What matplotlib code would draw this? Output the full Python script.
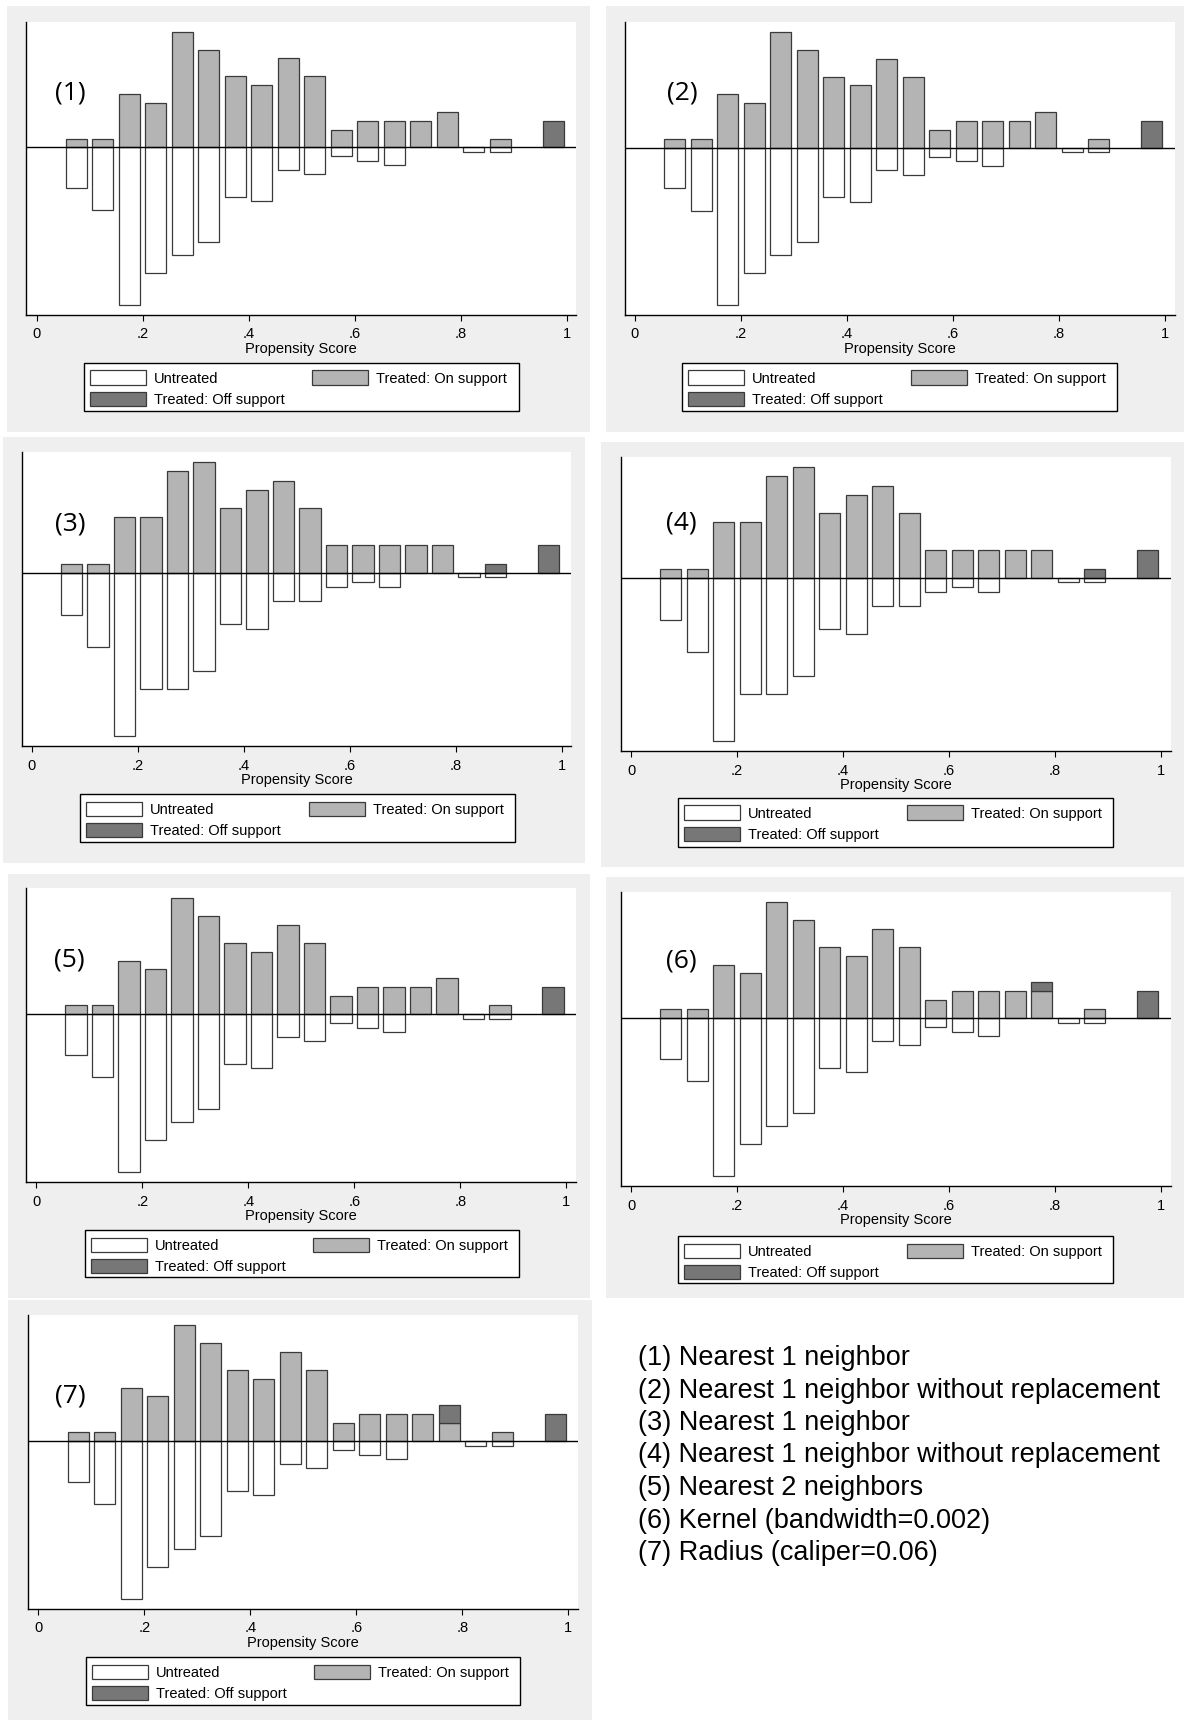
import matplotlib
matplotlib.use("Agg")
import matplotlib.pyplot as plt
from matplotlib.patches import Patch, Rectangle
import numpy as np

plt.rcParams["font.family"] = ["Liberation Sans", "DejaVu Sans"]

W, H = 1184, 1720

# propensity score bins (centres), width .05
bin_centers = [0.075, 0.125, 0.175, 0.225, 0.275, 0.325, 0.375, 0.425, 0.475, 0.525,
               0.575, 0.625, 0.675, 0.725, 0.775, 0.825, 0.875, 0.925, 0.975]

# counts per bin
untreated_a = [9, 14, 35, 28, 24, 21, 11, 12, 5, 6, 2, 3, 4, 0, 0, 1, 1, 0, 0]
on_support_a = [1, 1, 6, 5, 13, 11, 8, 7, 10, 8, 2, 3, 3, 3, 4, 0, 1, 0, 0]
off_support_a = [0, 0, 0, 0, 0, 0, 0, 0, 0, 0, 0, 0, 0, 0, 0, 0, 0, 0, 3]

untreated_b = [9, 16, 35, 25, 25, 21, 11, 12, 6, 6, 3, 2, 3, 0, 0, 1, 1, 0, 0]
on_support_b = [1, 1, 6, 6, 11, 12, 7, 9, 10, 7, 3, 3, 3, 3, 3, 0, 0, 0, 0]
off_support_b = [0, 0, 0, 0, 0, 0, 0, 0, 0, 0, 0, 0, 0, 0, 0, 0, 1, 0, 3]

on_support_6 = [1, 1, 6, 5, 13, 11, 8, 7, 10, 8, 2, 3, 3, 3, 3, 0, 1, 0, 0]
off_support_6 = [0, 0, 0, 0, 0, 0, 0, 0, 0, 0, 0, 0, 0, 0, 1, 0, 0, 0, 3]

on_support_7 = [1, 1, 6, 5, 13, 11, 8, 7, 10, 8, 2, 3, 3, 3, 2, 0, 1, 0, 0]
off_support_7 = [0, 0, 0, 0, 0, 0, 0, 0, 0, 0, 0, 0, 0, 0, 2, 0, 0, 0, 3]

panel_tags = ["(1)", "(2)", "(3)", "(4)", "(5)", "(6)", "(7)"]
panel_data = [
    (untreated_a, on_support_a, off_support_a),
    (untreated_a, on_support_a, off_support_a),
    (untreated_b, on_support_b, off_support_b),
    (untreated_b, on_support_b, off_support_b),
    (untreated_a, on_support_a, off_support_a),
    (untreated_a, on_support_6, off_support_6),
    (untreated_a, on_support_7, off_support_7),
]

methods = ["(1) Nearest 1 neighbor",
           "(2) Nearest 1 neighbor without replacement",
           "(3) Nearest 1 neighbor",
           "(4) Nearest 1 neighbor without replacement",
           "(5) Nearest 2 neighbors",
           "(6) Kernel (bandwidth=0.002)",
           "(7) Radius (caliper=0.06)"]

xticks = [0, 0.2, 0.4, 0.6, 0.8, 1]
xticklabels = ["0", ".2", ".4", ".6", ".8", "1"]

# layout in pixels: background box, x of tick 0, plot top/bottom, legend box, tag pos
layout = [
    dict(bg=(7, 6, 590, 432), x0=36.5, yt=21.7, yb=315, leg=(83.5, 363, 519, 411), tag=(0.079, 0.758)),
    dict(bg=(606, 6, 1184, 432), x0=635, yt=22, yb=315, leg=(682, 363, 1117, 411), tag=(0.104, 0.758)),
    dict(bg=(3, 437, 585, 863), x0=31.8, yt=452, yb=746, leg=(80, 794, 515, 842), tag=(0.088, 0.754)),
    dict(bg=(601, 442, 1184, 867), x0=631, yt=457, yb=751, leg=(678, 798, 1113, 847), tag=(0.11, 0.774)),
    dict(bg=(7.7, 874, 590, 1298), x0=36.2, yt=888, yb=1182, leg=(84.5, 1230, 519, 1277), tag=(0.079, 0.754)),
    dict(bg=(606, 877, 1184, 1298), x0=631, yt=892, yb=1186, leg=(678, 1236, 1113, 1283), tag=(0.11, 0.764)),
    dict(bg=(7.7, 1300, 592, 1720), x0=38.4, yt=1315, yb=1609, leg=(85.6, 1657, 520, 1705), tag=(0.076, 0.724)),
]

BG = "#efefef"
ON = "#b4b4b4"
OFF = "#777777"
EDGE = "#3a3a3a"
PX_PER_UNIT = 530
XL, XR = -0.019, 1.018

fig = plt.figure(figsize=(W / 100, H / 100), dpi=100)


def fig_rect(x0, y0, x1, y1):
    return [x0 / W, 1 - y1 / H, (x1 - x0) / W, (y1 - y0) / H]


for tag, (untr, on, off), lay in zip(panel_tags, panel_data, layout):
    r = fig_rect(*lay["bg"])
    fig.add_artist(Rectangle((r[0], r[1]), r[2], r[3], transform=fig.transFigure,
                             facecolor=BG, edgecolor="none", zorder=-1))

    left = lay["x0"] + XL * PX_PER_UNIT
    right = lay["x0"] + XR * PX_PER_UNIT
    ax = fig.add_axes(fig_rect(left, lay["yt"], right, lay["yb"]))
    ax.set_facecolor("white")

    untr = np.array(untr, float)
    on = np.array(on, float)
    off = np.array(off, float)
    n_treat = on.sum() + off.sum()
    n_untr = untr.sum()

    # psgraph shows each group as a share of its own total
    u_h = -untr / n_untr
    on_h = on / n_treat
    off_h = off / n_treat
    u_mask = untr > 0
    on_mask = on > 0
    off_mask = off > 0
    x = np.array(bin_centers)

    ax.bar(x[u_mask], u_h[u_mask], width=0.04, facecolor="white", edgecolor=EDGE, linewidth=0.9)
    ax.bar(x[on_mask], on_h[on_mask], width=0.04, facecolor=ON, edgecolor=EDGE, linewidth=0.9)
    ax.bar(x[off_mask], off_h[off_mask], bottom=on_h[off_mask], width=0.04,
           facecolor=OFF, edgecolor=EDGE, linewidth=0.9)
    ax.axhline(0, color="black", linewidth=1.0, zorder=5)

    ax.set_xlim(XL, XR)
    ax.margins(y=0.037)
    ax.set_yticks([])
    ax.set_xticks(xticks)
    ax.set_xticklabels(xticklabels)
    ax.tick_params(axis="x", direction="out", length=4, width=0.8, pad=5, labelsize=10.5)
    for s in ("top", "right"):
        ax.spines[s].set_visible(False)
    ax.spines["left"].set_linewidth(1.0)
    ax.spines["bottom"].set_linewidth(1.0)
    ax.set_xlabel("Propensity Score", fontsize=10.5, labelpad=0.5)

    ax.text(lay["tag"][0], lay["tag"][1], tag, transform=ax.transAxes, fontsize=19,
            family=["Open Sans", "DejaVu Sans"], ha="center", va="center")

    # legend: white box with black border, entries laid out inside it
    lx0, ly0, lx1, ly1 = lay["leg"]
    lr = fig_rect(lx0, ly0, lx1, ly1)
    ax.add_patch(Rectangle((lr[0], lr[1]), lr[2], lr[3], transform=fig.transFigure,
                           facecolor="white", edgecolor="black", linewidth=1.0,
                           clip_on=False, zorder=6))
    handles = [Patch(facecolor="white", edgecolor=EDGE, linewidth=0.9),
               Patch(facecolor=OFF, edgecolor=EDGE, linewidth=0.9),
               Patch(facecolor=ON, edgecolor=EDGE, linewidth=0.9)]
    labels = ["Untreated", "Treated: Off support", "Treated: On support"]
    leg = ax.legend(handles, labels, ncol=2, loc="upper left",
                    bbox_to_anchor=((lx0 + 6) / W, 1 - (ly0 + 7.5) / H),
                    bbox_transform=fig.transFigure,
                    fontsize=10.5, frameon=False,
                    borderaxespad=0, borderpad=0, labelspacing=0.42,
                    handlelength=3.85, handleheight=1.12, handletextpad=0.55,
                    columnspacing=1.9)
    leg.set_zorder(7)

line_y = [1358, 1390.5, 1423, 1455.5, 1488, 1520.5, 1553]
for txt, y in zip(methods, line_y):
    fig.text(638.5 / W, 1 - y / H, txt, fontsize=19.5, ha="left", va="center")

fig.savefig("out.png", dpi=100)
